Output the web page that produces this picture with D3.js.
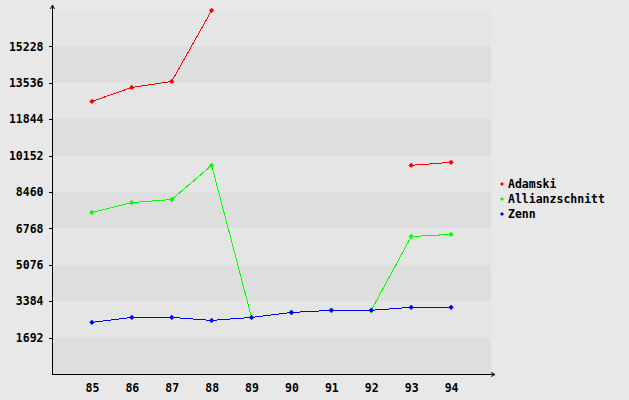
<!DOCTYPE html>
<html>
<head>
<meta charset="utf-8">
<script src="https://cdn.jsdelivr.net/npm/d3@7"></script>
<style>
  body { margin: 0; background: #e8e8e8; }
  svg { display: block; }
  text { font-family: "DejaVu Sans Mono", monospace; font-weight: bold; font-size: 11.5px; fill: #000; }
</style>
</head>
<body>
<svg id="viz" width="629" height="400"></svg>
<script>
// data
var years = ["85", "86", "87", "88", "89", "90", "91", "92", "93", "94"];
var yTicks = [1692, 3384, 5076, 6768, 8460, 10152, 11844, 13536, 15228];
var adamski = [12670, 13320, 13600, 16900, null, null, null, null, 9700, 9840];
var allianz = [7510, 7970, 8110, 9700, 2630, 2860, 2960, 2960, 6390, 6490];
var zenn = [2400, 2630, 2630, 2490, 2630, 2860, 2960, 2960, 3100, 3100];
var seriesNames = ["Adamski", "Allianzschnitt", "Zenn"];
var colors = ["#ff0000", "#00ff00", "#0000ff"];

(function () {
    'use strict';
    var svg = d3.select("#viz");
    var plot = { left: 52, right: 491, top: 10, bottom: 374 };

    var x = d3.scalePoint().domain(years).range([plot.left, plot.right]).padding(1);
    var y = d3.scaleLinear().domain([0, 16920]).range([plot.bottom, plot.top]);

    // bands
    var bandEdges = [0].concat(yTicks).concat([16920]);
    svg.append("g").selectAll("rect")
        .data(d3.range(bandEdges.length - 1))
        .enter().append("rect")
        .attr("x", plot.left)
        .attr("width", plot.right - plot.left)
        .attr("y", function (i) { return Math.round(y(bandEdges[i + 1])); })
        .attr("height", function (i) { return Math.round(y(bandEdges[i])) - Math.round(y(bandEdges[i + 1])); })
        .attr("fill", function (i) { return i % 2 === 0 ? "#dedede" : "#e5e5e5"; })
        .attr("shape-rendering", "crispEdges");

    // axes
    var yAxis = d3.axisLeft(y).tickValues(yTicks).tickSize(4).tickPadding(5).tickFormat(d3.format("d"));
    var gy = svg.append("g").attr("transform", "translate(" + (plot.left + 0.5) + ",0)").call(yAxis);
    gy.select(".domain").remove();
    gy.selectAll("line").attr("stroke", "#000").attr("shape-rendering", "crispEdges");
    gy.selectAll("text").attr("font-family", null).attr("font-size", null);

    var xAxis = d3.axisBottom(x).tickSize(0).tickPadding(9);
    var gx = svg.append("g").attr("transform", "translate(0," + (plot.bottom + 0.5) + ")").call(xAxis);
    gx.select(".domain").remove();
    gx.selectAll("text").attr("font-family", null).attr("font-size", null);

    svg.append("line").attr("x1", plot.left + 0.5).attr("x2", plot.left + 0.5)
        .attr("y1", plot.bottom + 0.5).attr("y2", 5).attr("stroke", "#000");
    svg.append("line").attr("x1", plot.left).attr("x2", 495)
        .attr("y1", plot.bottom + 0.5).attr("y2", plot.bottom + 0.5).attr("stroke", "#000");
    svg.append("path").attr("d", "M" + (plot.left + 0.5) + ",5 l-2,4 M" + (plot.left + 0.5) + ",5 l2,4")
        .attr("stroke", "#000").attr("fill", "none");
    svg.append("path").attr("d", "M495," + (plot.bottom + 0.5) + " l-4,-2 M495," + (plot.bottom + 0.5) + " l-4,2")
        .attr("stroke", "#000").attr("fill", "none");

    // lines
    var line = d3.line()
        .defined(function (d) { return d !== null; })
        .x(function (d, i) { return x(years[i]); })
        .y(function (d) { return y(d); });

    var marker = d3.symbol().type(d3.symbolDiamond2).size(18);

    [adamski, allianz, zenn].forEach(function (vals, k) {
        svg.append("path")
            .datum(vals)
            .attr("d", line)
            .attr("fill", "none")
            .attr("stroke", colors[k])
            .attr("stroke-width", 1)
            .attr("shape-rendering", "crispEdges");
        svg.append("g").selectAll("path")
            .data(vals.map(function (v, i) { return { v: v, i: i }; }).filter(function (d) { return d.v !== null; }))
            .enter().append("path")
            .attr("d", marker)
            .attr("transform", function (d) { return "translate(" + x(years[d.i]) + "," + y(d.v) + ")"; })
            .attr("fill", colors[k]);
    });

    // legend
    var legend = svg.append("g").attr("transform", "translate(502,184)");
    seriesNames.forEach(function (name, k) {
        legend.append("path")
            .attr("d", d3.symbol().type(d3.symbolDiamond2).size(10))
            .attr("transform", "translate(0," + (k * 15) + ")")
            .attr("fill", colors[k]);
        legend.append("text")
            .attr("x", 6)
            .attr("y", k * 15 + 4)
            .text(name);
    });
}());
</script>
</body>
</html>
